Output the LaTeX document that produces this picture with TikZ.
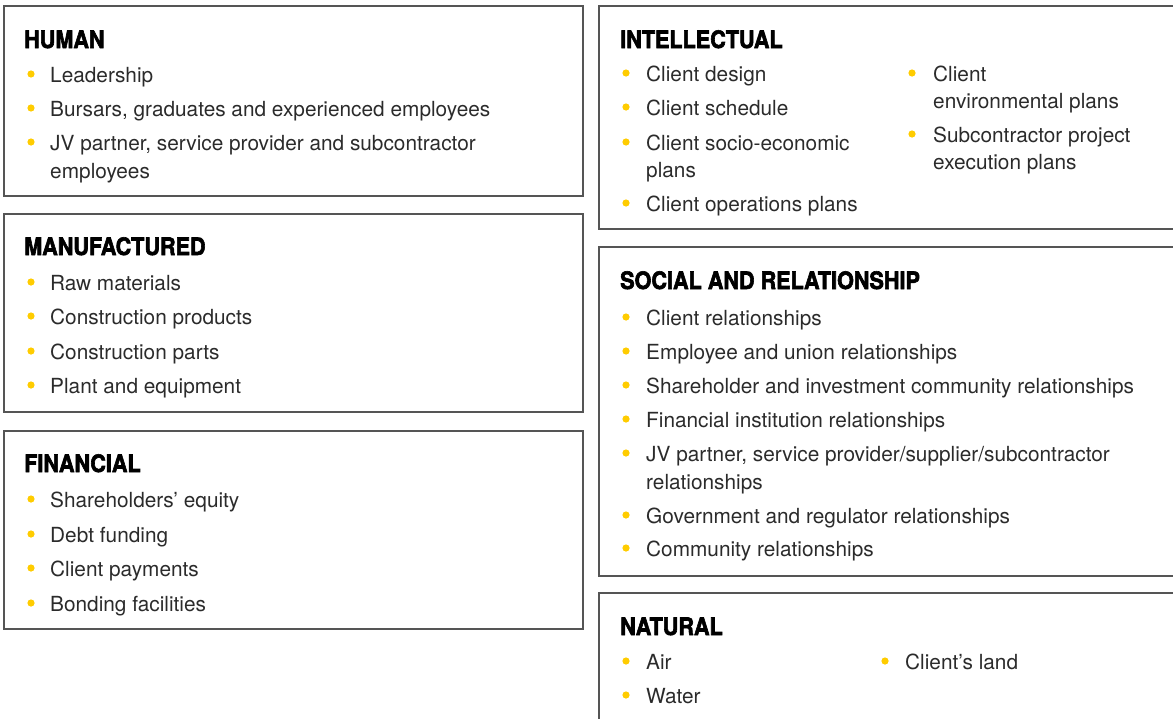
\documentclass[tikz,border=0pt]{standalone}
\usepackage{fontspec}
\setmainfont{TeX Gyre Heros}
\newfontfamily\ttlfont[FakeStretch=0.9,FakeBold=2.5]{TeX Gyre Heros Bold}
\definecolor{bulletcol}{HTML}{FFCC00}
\definecolor{boxline}{HTML}{555555}
\definecolor{txtcol}{HTML}{2B2B2B}
\tikzset{
  itemtext/.style={anchor=base west,inner sep=0pt,font=\fontsize{20.8}{25}\selectfont,text=txtcol},
  titletext/.style={anchor=base west,inner sep=0pt,font=\ttlfont\fontsize{24}{28}\selectfont,text=black},
  boxframe/.style={draw=boxline,line width=1.1pt},
  dot/.style={fill=bulletcol}
}
\newcommand\bitem[5]{%
  \fill[dot] ({#2},{#4-8}) circle (3.6);
  \node[itemtext] (#1) at ({#3},{#4}) {#5};}
\newcommand\citem[4]{%
  \node[itemtext] (#1) at ({#2},{#3}) {#4};}
\begin{document}
\begin{tikzpicture}[x=1pt,y=-1pt]
\useasboundingbox (0,0) rectangle (1173,718);
% left boxes
\draw[boxframe] (4,6) rectangle (583,196);
\draw[boxframe] (4,214) rectangle (583,412);
\draw[boxframe] (4,431) rectangle (583,629);
% right boxes (open at right edge)
\draw[boxframe] (1174,6) -- (599,6) -- (599,229) -- (1174,229);
\draw[boxframe] (1174,247) -- (599,247) -- (599,576) -- (1174,576);
\draw[boxframe] (1174,593) -- (599,593) -- (599,719);
% HUMAN
\node[titletext] (human) at (24,48) {HUMAN};
\bitem{h1}{31}{50}{82}{Leadership}
\bitem{h2}{31}{50}{116}{Bursars, graduates and experienced employees}
\bitem{h3}{31}{50}{150}{JV partner, service provider and subcontractor}
\citem{h3b}{50}{178}{employees}
% MANUFACTURED
\node[titletext] (manuf) at (24,255) {MANUFACTURED};
\bitem{m1}{31}{50}{290}{Raw materials}
\bitem{m2}{31}{50}{324}{Construction products}
\bitem{m3}{31}{50}{359}{Construction parts}
\bitem{m4}{31}{50}{393}{Plant and equipment}
% FINANCIAL
\node[titletext] (fin) at (24,472) {FINANCIAL};
\bitem{f1}{31}{50}{507}{Shareholders’ equity}
\bitem{f2}{31}{50}{542}{Debt funding}
\bitem{f3}{31}{50}{576}{Client payments}
\bitem{f4}{31}{50}{611}{Bonding facilities}
% INTELLECTUAL
\node[titletext] (intel) at (620,48) {INTELLECTUAL};
\bitem{i1}{626}{646}{81}{Client design}
\bitem{i2}{626}{646}{115}{Client schedule}
\bitem{i3}{626}{646}{150}{Client socio-economic}
\citem{i3b}{646}{177}{plans}
\bitem{i4}{626}{646}{211}{Client operations plans}
\bitem{i5}{912}{933}{81}{Client}
\citem{i5b}{933}{108}{environmental plans}
\bitem{i6}{912}{933}{142}{Subcontractor project}
\citem{i6b}{933}{169}{execution plans}
% SOCIAL
\node[titletext] (social) at (620,289) {SOCIAL AND RELATIONSHIP};
\bitem{s1}{626}{646}{325}{Client relationships}
\bitem{s2}{626}{646}{359}{Employee and union relationships}
\bitem{s3}{626}{646}{393}{Shareholder and investment community relationships}
\bitem{s4}{626}{646}{427}{Financial institution relationships}
\bitem{s5}{626}{646}{461}{JV partner, service provider/supplier/subcontractor}
\citem{s5b}{646}{489}{relationships}
\bitem{s6}{626}{646}{523}{Government and regulator relationships}
\bitem{s7}{626}{646}{556}{Community relationships}
% NATURAL
\node[titletext] (nat) at (620,635) {NATURAL};
\bitem{n1}{626}{646}{669}{Air}
\bitem{n2}{626}{646}{703}{Water}
\bitem{n3}{885}{905}{669}{Client’s land}
\end{tikzpicture}
\end{document}
